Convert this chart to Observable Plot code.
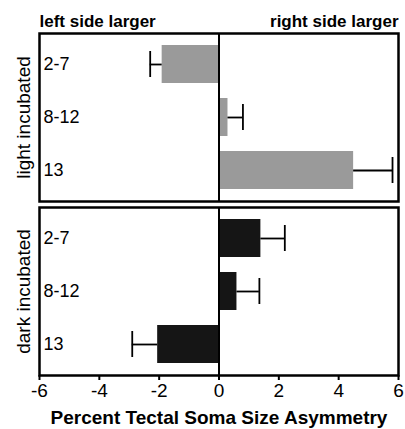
<!DOCTYPE html>
<html><head><meta charset="utf-8">
<script src="https://cdn.jsdelivr.net/npm/d3@7"></script>
<script src="https://cdn.jsdelivr.net/npm/@observablehq/plot@0.6"></script>
<style>body{margin:0;background:#fff}</style>
</head><body><div id="chart"></div>
<script>
const groups = ["light incubated", "dark incubated"];
const ages = ["2-7", "8-12", "13"];
const lightMeans = [-1.9, 0.3, 4.5];
const lightErrEnd = [-2.3, 0.8, 5.8];
const darkMeans = [1.4, 0.6, -2.05];
const darkErrEnd = [2.2, 1.35, -2.9];
const xTicks = [-6, -4, -2, 0, 2, 4, 6];
const colors = ["#9a9a9a", "#151515"];

const rows = [];
ages.forEach((a, i) => {
  rows.push({group: groups[0], age: a, mean: lightMeans[i], err: lightErrEnd[i]});
  rows.push({group: groups[1], age: a, mean: darkMeans[i], err: darkErrEnd[i]});
});

const font = "Liberation Sans, Arial, Helvetica, sans-serif";
const chart = Plot.plot({
  width: 405, height: 429,
  marginTop: 32, marginBottom: 53, marginLeft: 39, marginRight: 7,
  style: {fontFamily: font, fontSize: "18px", color: "#000", background: "#fff"},
  x: {domain: [-6, 6], ticks: xTicks, label: null},
  y: {domain: ages, paddingInner: 0.29, paddingOuter: 0.21, axis: null},
  fy: {domain: groups, padding: 0.034, axis: null},
  color: {domain: groups, range: colors},
  marks: [
    Plot.barX(rows, {x: "mean", y: "age", fy: "group", fill: "group"}),
    Plot.ruleY(rows, {x1: "mean", x2: "err", y: "age", fy: "group", stroke: "#000", strokeWidth: 1.8}),
    Plot.tickX(rows, {x: "err", y: "age", fy: "group", stroke: "#000", strokeWidth: 1.8, insetTop: 6, insetBottom: 6}),
    Plot.ruleX([0], {stroke: "#000", strokeWidth: 2}),
    Plot.frame({stroke: "#000", strokeWidth: 2.5}),
    Plot.text(rows, {y: "age", fy: "group", text: "age", frameAnchor: "left", dx: 4, textAnchor: "start", fontSize: 18}),
    Plot.text(groups, {fy: d => d, text: d => d, frameAnchor: "left", dx: -16, rotate: -90, textAnchor: "middle", fontSize: 19}),
    Plot.text([groups[0]], {fy: d => d, text: () => "left side larger", frameAnchor: "top-left", lineAnchor: "middle", dy: -12, textAnchor: "start", fontWeight: "bold", fontSize: 17}),
    Plot.text([groups[0]], {fy: d => d, text: () => "right side larger", frameAnchor: "top-right", lineAnchor: "middle", dy: -12, textAnchor: "end", fontWeight: "bold", fontSize: 17}),
    Plot.axisX(xTicks, {facetAnchor: "bottom", anchor: "bottom", tickSize: 5, tickPadding: 3, fontSize: 19, strokeWidth: 2, label: null, tickFormat: d => String(d)}),
    Plot.text([groups[1]], {fy: d => d, text: () => "Percent Tectal Soma Size Asymmetry", frameAnchor: "bottom", lineAnchor: "middle", dy: 42, textAnchor: "middle", fontWeight: "bold", fontSize: 19})
  ]
});
document.getElementById("chart").appendChild(chart);
</script>
</body></html>
